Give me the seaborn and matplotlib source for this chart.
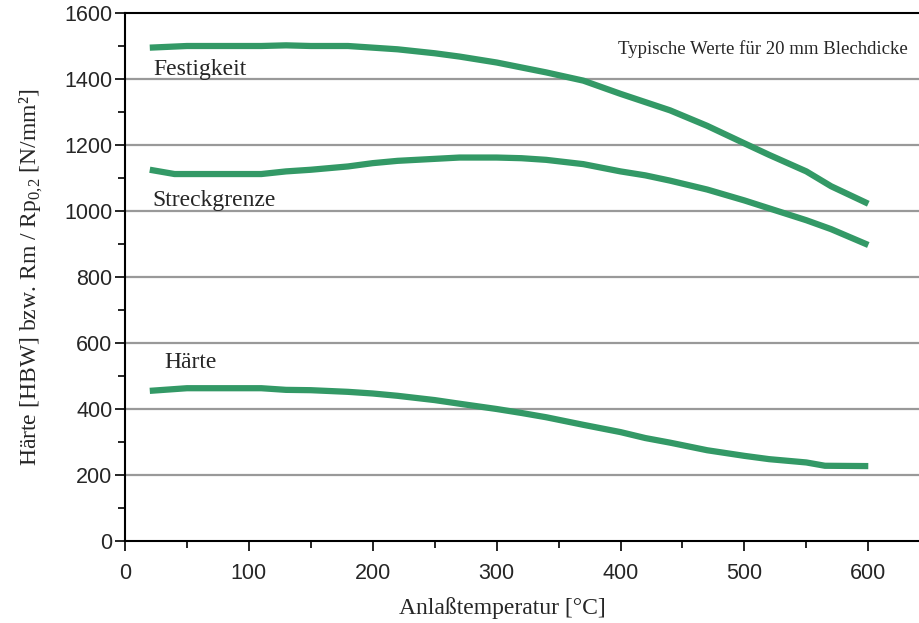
import matplotlib
matplotlib.use("Agg")
import matplotlib.pyplot as plt
import seaborn as sns
import pandas as pd
from matplotlib.ticker import MultipleLocator

sns.set_theme(style="white")
plt.rcParams['font.family'] = ['Liberation Sans', 'DejaVu Sans']
plt.rcParams['mathtext.fontset'] = 'custom'
plt.rcParams['mathtext.rm'] = 'Liberation Serif'

temp = [20, 50, 80, 110, 130, 150, 180, 200, 220, 250, 270, 300, 320, 340, 370, 400, 420, 440, 470, 500, 520, 550, 570, 600]
festigkeit = [1495, 1500, 1500, 1500, 1502, 1500, 1500, 1495, 1490, 1478, 1468, 1450, 1435, 1420, 1395, 1355, 1330, 1305, 1258, 1205, 1170, 1120, 1075, 1022]
streck_temp = [20, 40, 80, 110, 130, 150, 180, 200, 220, 250, 270, 300, 320, 340, 370, 400, 420, 440, 470, 500, 520, 550, 570, 600]
streckgrenze = [1125, 1112, 1112, 1112, 1120, 1125, 1135, 1145, 1152, 1158, 1162, 1162, 1160, 1155, 1142, 1120, 1108, 1092, 1065, 1032, 1008, 972, 945, 897]
haerte_temp = [20, 50, 80, 110, 130, 150, 180, 200, 220, 250, 270, 300, 320, 340, 370, 400, 420, 440, 470, 500, 520, 550, 565, 600]
haerte = [455, 463, 463, 463, 458, 457, 452, 447, 440, 427, 416, 400, 388, 375, 352, 330, 312, 298, 275, 258, 248, 238, 228, 227]

series_labels = ["Festigkeit", "Streckgrenze", "Härte"]
label_pos = [(23, 1430), (22, 1032), (32, 540)]

df = pd.concat([
    pd.DataFrame({"T": temp, "v": festigkeit, "s": "Festigkeit"}),
    pd.DataFrame({"T": streck_temp, "v": streckgrenze, "s": "Streckgrenze"}),
    pd.DataFrame({"T": haerte_temp, "v": haerte, "s": "Härte"}),
])

fig = plt.figure(figsize=(9.2, 6.23), dpi=100)
ax = fig.add_axes([125/920, 1 - 541/623, 1 - 125/920 - 0.001, (541 - 13)/623])

green = "#339966"
for s in series_labels:
    d = df[df.s == s]
    sns.lineplot(data=d, x="T", y="v", ax=ax, color=green, lw=4.5, legend=False,
                 solid_capstyle="butt", zorder=3)

for y in range(200, 1600, 200):
    ax.axhline(y, color="#999999", lw=1.6, zorder=1)

ax.set_xlim(0, 641)
ax.set_ylim(0, 1600)
ax.xaxis.set_major_locator(MultipleLocator(100))
ax.xaxis.set_minor_locator(MultipleLocator(50))
ax.yaxis.set_major_locator(MultipleLocator(200))
ax.yaxis.set_minor_locator(MultipleLocator(100))
ax.tick_params(axis="both", which="major", direction="out", length=7, width=1.2,
               color="black", labelsize=15.5, bottom=True, left=True)
ax.tick_params(axis="y", which="major", pad=2)
ax.tick_params(axis="x", which="major", pad=9)
ax.tick_params(axis="both", which="minor", direction="out", length=5, width=1.2,
               color="black", bottom=True, left=True)
for side in ["left", "bottom", "top"]:
    ax.spines[side].set_color("black")
    ax.spines[side].set_linewidth(1.5)
ax.spines["right"].set_visible(False)

serif = ["Liberation Serif", "DejaVu Serif"]
ax.set_xlabel("Anlaßtemperatur [°C]", family=serif, fontsize=17)
ax.xaxis.set_label_coords(305 / 641, -0.106)
ax.set_ylabel("Härte [HBW] bzw. Rm / Rp$_{0{,}2}$ [N/mm²]", family=serif, fontsize=17, labelpad=14)

for lab, (x, y) in zip(series_labels, label_pos):
    ax.text(x, y, lab, family=serif, fontsize=17, ha="left", va="center")

ax.text(632, 1490, "Typische Werte für 20 mm Blechdicke", family=serif, fontsize=13.5,
        ha="right", va="center")

fig.savefig("out.png", dpi=100)
